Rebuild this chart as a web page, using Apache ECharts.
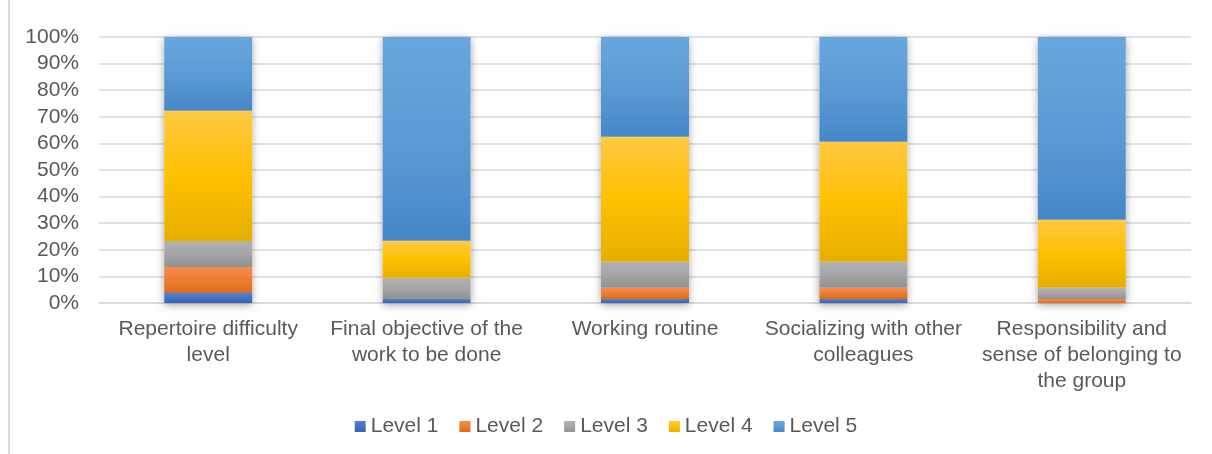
<!DOCTYPE html>
<html>
<head>
<meta charset="utf-8">
<script src="https://cdn.jsdelivr.net/npm/echarts@6/dist/echarts.min.js"></script>
<style>
html,body{margin:0;padding:0;background:#fff;}
#wrap{position:relative;width:1212px;height:454px;}
#frame{position:absolute;left:8px;top:0;width:1px;height:454px;border-left:2px solid #d9d9d9;}
#chart{position:absolute;left:0;top:0;width:1212px;height:454px;}
</style>
</head>
<body>
<div id="wrap"><div id="frame"></div><div id="chart"></div></div>
<script>
const categories = [
  "Repertoire difficulty\nlevel",
  "Final objective of the\nwork to be done",
  "Working routine",
  "Socializing with other\ncolleagues",
  "Responsibility and\nsense of belonging to\nthe group"
];
const level1 = [3.8, 1.5, 1.5, 1.5, 0];
const level2 = [9.7, 0, 4.2, 4.2, 1.5];
const level3 = [9.8, 8.0, 9.8, 9.8, 4.2];
const level4 = [49.0, 13.9, 47.0, 45.1, 25.6];
const level5 = [27.7, 76.6, 37.5, 39.4, 68.7];
const seriesNames = ["Level 1", "Level 2", "Level 3", "Level 4", "Level 5"];
const yTicks = [0, 10, 20, 30, 40, 50, 60, 70, 80, 90, 100];

const grads = [
  ['#5183d6', '#4472C4', '#3a64b0'],
  ['#f58c4d', '#ED7D31', '#dc6a1c'],
  ['#b2b2b2', '#A5A5A5', '#929292'],
  ['#ffc942', '#FFC000', '#e5ae00'],
  ['#68a6dd', '#5B9BD5', '#4587c7']
];
function grad(c){
  return new echarts.graphic.LinearGradient(0,0,0,1,[
    {offset:0,color:c[0]},{offset:0.5,color:c[1]},{offset:1,color:c[2]}
  ]);
}
const datas = [level1, level2, level3, level4, level5];
const totals = categories.map((_, i) => datas.reduce((s, d) => s + d[i], 0));

const font = 'Liberation Sans, Arial, sans-serif';
const series = [{
  name: 'shadow', type: 'bar', data: totals, barWidth: 88, barGap: '-100%',
  silent: true, z: 1,
  itemStyle: {color: '#fff', shadowBlur: 8, shadowColor: 'rgba(0,0,0,0.35)', shadowOffsetY: 2}
}];
datas.forEach((d, i) => {
  series.push({
    name: seriesNames[i], type: 'bar', stack: 'total', data: d, barWidth: 88, z: 2,
    itemStyle: {color: grad(grads[i])}
  });
});

const chart = echarts.init(document.getElementById('chart'));
chart.setOption({
  animation: false,
  grid: {left: 99, right: 21, top: 37, bottom: 151, containLabel: false},
  legend: {
    data: seriesNames, top: 411, left: 'center', itemWidth: 11, itemHeight: 11, itemGap: 21,
    icon: 'rect',
    textStyle: {fontFamily: font, fontSize: 21, color: '#595959', padding: [0,0,0,0]}
  },
  xAxis: {
    type: 'category', data: categories,
    axisLine: {lineStyle: {color: '#d9d9d9', width: 1.5}},
    axisTick: {show: false},
    axisLabel: {fontFamily: font, fontSize: 21, color: '#595959', lineHeight: 26, margin: 13, interval: 0}
  },
  yAxis: {
    type: 'value', min: yTicks[0], max: yTicks[yTicks.length-1], interval: 10,
    axisLine: {show: false}, axisTick: {show: false},
    splitLine: {lineStyle: {color: '#d9d9d9', width: 1.5}},
    axisLabel: {fontFamily: font, fontSize: 21, color: '#595959', margin: 20, formatter: v => v + '%'}
  },
  series: series
});
</script>
</body>
</html>
